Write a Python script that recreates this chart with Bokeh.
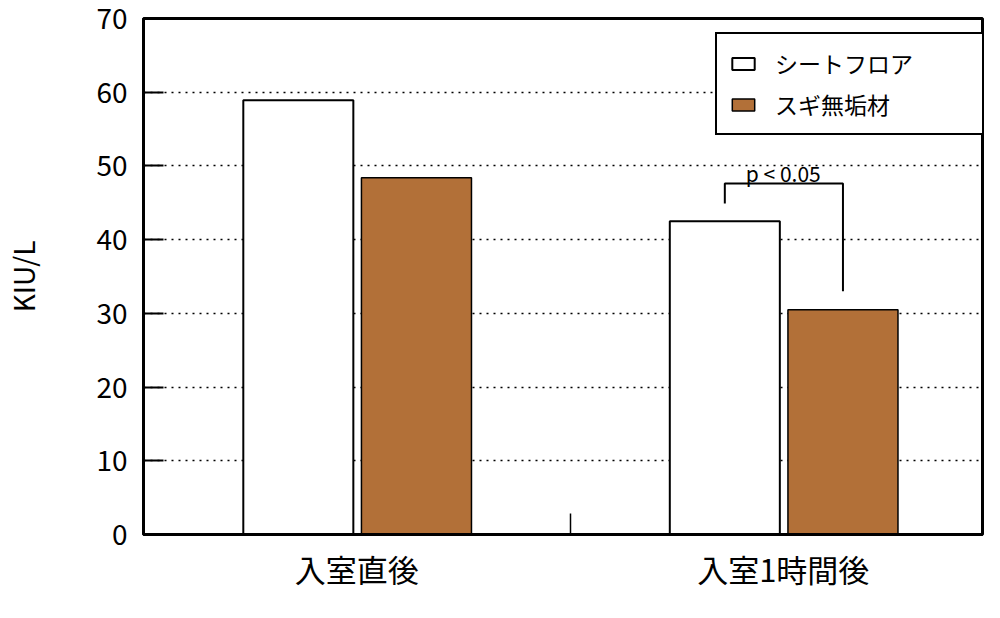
from bokeh.plotting import figure
from bokeh.models import Range1d, FixedTicker, Legend, LegendItem, ColumnDataSource
from bokeh.core.properties import value
from bokeh.embed import file_html
from bokeh.resources import INLINE

categories = ["入室直後", "入室1時間後"]
series_names = ["シートフロア", "スギ無垢材"]
sheet_floor = [58.9, 42.5]
sugi = [48.4, 30.5]
y_ticks = [0, 10, 20, 30, 40, 50, 60, 70]

# significance annotation (second category)
sig_text = "p < 0.05"
sig_bracket_top = 47.6
sig_bracket_ends = [44.9, 33.0]
sig_text_y = 49.0

FONT = "Noto Sans CJK JP"
BROWN = "#B27038"
offsets = [-0.137, 0.140]
bar_w = 0.258

W, H = 984, 602
ML, MR, MT, MB = 143, 2, 18, 68
frame_w = W - ML - MR
x_end = frame_w / 426.5  # keeps reference's category spacing in pixels

p = figure(width=W, height=H, output_backend="svg", toolbar_location=None,
           x_range=Range1d(0, x_end), y_range=Range1d(0, 70),
           min_border_left=ML, min_border_right=MR, min_border_top=MT,
           min_border_bottom=MB)

centers = [i + 0.5 for i in range(len(categories))]
src1 = ColumnDataSource(dict(x=[c + offsets[0] for c in centers], top=sheet_floor))
src2 = ColumnDataSource(dict(x=[c + offsets[1] for c in centers], top=sugi))
r1 = p.vbar(x="x", top="top", width=bar_w, source=src1, fill_color="white",
            line_color="black", line_width=2)
r2 = p.vbar(x="x", top="top", width=bar_w, source=src2, fill_color=BROWN,
            line_color="black", line_width=1.5)

# bracket
xa = centers[1] + offsets[0]
xb = centers[1] + offsets[1]
p.line(x=[xa, xa, xb, xb],
       y=[sig_bracket_ends[0], sig_bracket_top, sig_bracket_top, sig_bracket_ends[1]],
       line_color="black", line_width=2)
p.text(x=[centers[1]], y=[sig_text_y], text=[sig_text], text_font=value(FONT),
       text_font_size="21px", text_align="center", text_baseline="alphabetic",
       text_color="black")

# axes
p.outline_line_color = "black"
p.outline_line_width = 3
p.outline_line_alpha = 1

xax = p.xaxis[0]
xax.ticker = FixedTicker(ticks=centers, minor_ticks=[1.0])
xax.major_label_overrides = {c: lab for c, lab in zip(centers, categories)}
xax.major_tick_in = 0
xax.major_tick_out = 0
xax.minor_tick_in = 21
xax.minor_tick_out = 0
xax.minor_tick_line_color = "black"
xax.minor_tick_line_width = 1.5
xax.axis_line_width = 3
xax.axis_line_color = "black"
xax.major_label_text_font = FONT
xax.major_label_text_font_size = "31px"
xax.major_label_text_color = "black"
xax.major_label_standoff = 11

yax = p.yaxis[0]
yax.ticker = FixedTicker(ticks=y_ticks)
yax.major_tick_in = 20
yax.major_tick_out = 0
yax.major_tick_line_width = 2
yax.major_tick_line_color = "black"
yax.minor_tick_line_color = None
yax.axis_line_width = 3
yax.axis_line_color = "black"
yax.major_label_text_font = FONT
yax.major_label_text_font_size = "28px"
yax.major_label_text_color = "black"
yax.major_label_standoff = 16
yax.axis_label = "KIU/L"
yax.axis_label_text_font = FONT
yax.axis_label_text_font_size = "28px"
yax.axis_label_text_font_style = "normal"
yax.axis_label_text_color = "black"
yax.axis_label_standoff = 50

p.xgrid.grid_line_color = None
p.ygrid.ticker = FixedTicker(ticks=y_ticks)
p.ygrid.grid_line_color = "black"
p.ygrid.grid_line_width = 1.5
p.ygrid.grid_line_dash = "2 5"

legend = Legend(items=[LegendItem(label=series_names[0], renderers=[r1]),
                       LegendItem(label=series_names[1], renderers=[r2])],
                location=(572, 399))
legend.margin = 0
legend.padding = 12
legend.spacing = 7
legend.glyph_height = 15
legend.glyph_width = 28
legend.label_standoff = 18
legend.label_width = 195
legend.label_text_font = FONT
legend.label_text_font_size = "23px"
legend.label_text_color = "black"
legend.border_line_color = "black"
legend.border_line_width = 2
legend.border_line_alpha = 1
legend.background_fill_alpha = 1
p.add_layout(legend)

open("out.html", "w").write(file_html(p, INLINE))
